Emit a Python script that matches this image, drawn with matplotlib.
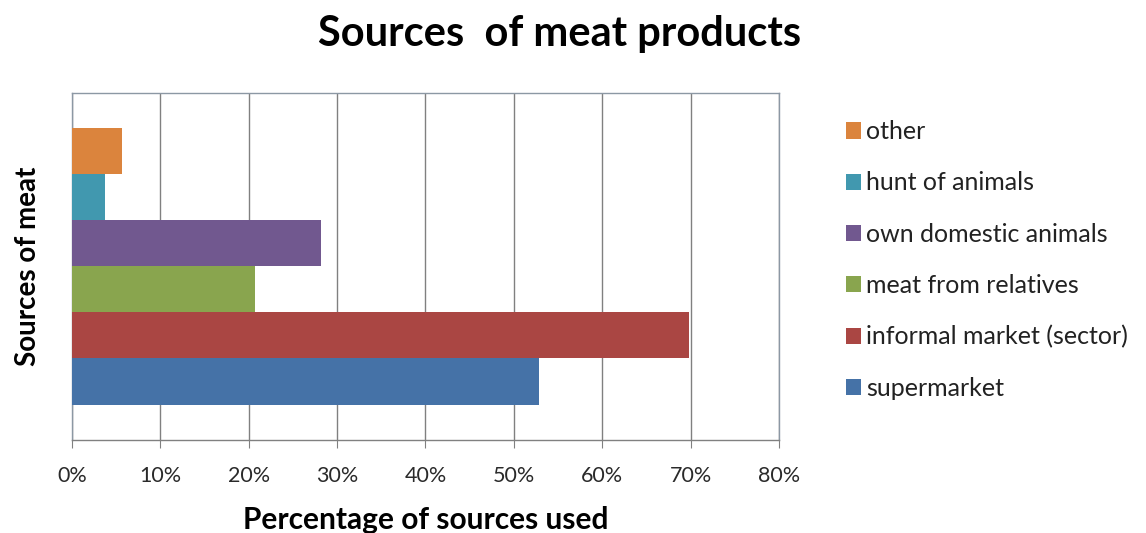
import matplotlib
matplotlib.use("Agg")
import matplotlib.pyplot as plt
from matplotlib.patches import Patch
from matplotlib.ticker import FuncFormatter

plt.rcParams['font.family'] = ['Lato', 'DejaVu Sans']

# series in drawing order (bottom to top)
sources = ["supermarket", "informal market (sector)", "meat from relatives",
           "own domestic animals", "hunt of animals", "other"]
shares = [52.8, 69.8, 20.7, 28.2, 3.75, 5.65]
colors = ["#4572A7", "#AA4643", "#89A54E", "#71588F", "#4198AF", "#DB843D"]
x_ticks = [0, 10, 20, 30, 40, 50, 60, 70, 80]

fig = plt.figure(figsize=(11.46, 5.33), dpi=100)
ax = fig.add_axes([72 / 1146, 1 - 440 / 533, 707 / 1146, 347 / 533])

ypos = list(range(len(sources)))
ax.barh(ypos, shares, height=1.0, color=colors, zorder=3)

ax.set_xlim(0, 80)
ax.set_ylim(-1.27, 6.26)
ax.set_xticks(x_ticks)
ax.xaxis.set_major_formatter(FuncFormatter(lambda v, p: "%d%%" % v))
ax.set_yticks([])
ax.grid(axis="x", color="#808080", linewidth=1.0, zorder=0)
for s in ax.spines.values():
    s.set_color("#8C98A4")
    s.set_linewidth(1.0)
ax.spines["bottom"].set_color("#808080")
ax.tick_params(axis="x", direction="out", length=6, color="#808080",
               labelsize=15.5, pad=13, labelcolor="#2a2a2a")

ax.set_xlabel("Percentage of sources used", fontsize=21.5, fontweight="bold",
              labelpad=14)
ax.set_ylabel("Sources of meat", fontsize=20, fontweight="bold", labelpad=22)

fig.text(560 / 1146, 1 - 34 / 533, "Sources  of meat products", fontsize=30,
         fontweight="bold", ha="center", va="center")

handles = [Patch(facecolor=c, edgecolor="none") for c in colors]
leg = fig.legend(handles[::-1], sources[::-1], loc="center left",
                 bbox_to_anchor=(846 / 1146, 1 - 260 / 533), frameon=False,
                 fontsize=18, handlelength=0.62, handleheight=0.62,
                 handletextpad=0.18, labelspacing=1.13, borderpad=0,
                 borderaxespad=0)
for t in leg.get_texts():
    t.set_color("#222222")

fig.savefig("out.png", dpi=100)
